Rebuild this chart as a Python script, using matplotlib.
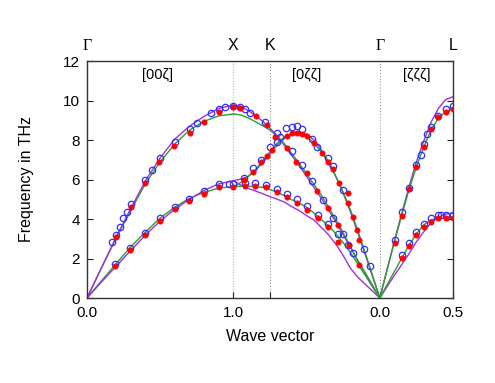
import numpy as np
import matplotlib
matplotlib.use('Agg')
from matplotlib import pyplot as plt

plt.rcParams['font.family'] = ['Liberation Sans', 'DejaVu Sans']
plt.rcParams['font.size'] = 11

# path positions and labels
sym_pos = [0.0, 1.0, 1.25, 2.0, 2.5]
sym_lab = [u'\u0393', 'X', 'K', u'\u0393', 'L']
tick_pos = [0.0, 1.0, 1.25, 2.0, 2.5]
tick_lab = ['0.0', '1.0', '', '0.0', '0.5']
dir_lab = [u'[00\u03b6]', u'[0\u03b6\u03b6]', u'[\u03b6\u03b6\u03b6]']
dir_pos = [0.48, 1.50, 2.25]

# model curves, Gamma-X
q_gx = [0.0, 0.1, 0.2, 0.3, 0.4, 0.5, 0.6, 0.7, 0.8, 0.9, 1.0]
green_gx_l = [0, 1.55, 3.05, 4.45, 5.8, 6.9, 7.8, 8.5, 8.95, 9.22, 9.32]
green_gx_t = [0, 0.88, 1.75, 2.6, 3.35, 4.05, 4.6, 5.05, 5.35, 5.57, 5.64]
purple_gx_l = [0, 1.55, 3.1, 4.55, 5.95, 7.1, 8.05, 8.7, 9.2, 9.6, 9.77]
purple_gx_t = [0, 0.82, 1.62, 2.42, 3.2, 3.9, 4.5, 5.0, 5.45, 5.78, 5.94]

# model curves, X-K-Gamma
q_xg = [1.0, 1.05, 1.1, 1.15, 1.2, 1.25, 1.3, 1.35, 1.4, 1.45, 1.5,
        1.55, 1.6, 1.65, 1.7, 1.75, 1.8, 1.85, 1.9, 1.95, 2.0]
green_xg_1 = [9.32, 9.27, 9.12, 8.93, 8.72, 8.5, 8.2, 7.8, 7.3, 6.8, 6.3,
              5.75, 5.2, 4.6, 3.95, 3.3, 2.6, 1.85, 1.25, 0.62, 0]
green_xg_2 = [5.64, 5.85, 6.15, 6.5, 6.95, 7.4, 7.85, 8.15, 8.32, 8.33, 8.2,
              7.85, 7.4, 6.85, 6.15, 5.35, 4.45, 3.4, 2.3, 1.15, 0]
green_xg_3 = [5.64, 5.66, 5.66, 5.64, 5.6, 5.5, 5.35, 5.17, 4.97, 4.8, 4.6,
              4.3, 3.98, 3.65, 3.25, 2.8, 2.3, 1.72, 1.15, 0.57, 0]
purple_xg_1 = [9.77, 9.7, 9.5, 9.25, 8.95, 8.6, 8.2, 7.7, 7.2, 6.7, 6.15,
               5.6, 5.05, 4.45, 3.85, 3.2, 2.55, 1.9, 1.28, 0.64, 0]
purple_xg_2 = [5.94, 6.02, 6.15, 6.45, 6.85, 7.3, 7.75, 8.1, 8.3, 8.4, 8.3,
               8.0, 7.5, 6.9, 6.15, 5.3, 4.35, 3.3, 2.2, 1.1, 0]
purple_xg_3 = [5.94, 5.72, 5.55, 5.42, 5.28, 5.13, 5.0, 4.85, 4.62, 4.42, 4.17,
               3.95, 3.58, 3.2, 2.72, 2.15, 1.5, 1.05, 0.7, 0.35, 0]

# model curves, Gamma-L
q_gl = [2.0, 2.05, 2.1, 2.15, 2.2, 2.25, 2.3, 2.35, 2.4, 2.45, 2.5]
green_gl_l = [0, 1.45, 2.85, 4.2, 5.5, 6.65, 7.65, 8.5, 9.1, 9.45, 9.55]
green_gl_t = [0, 0.68, 1.35, 2.02, 2.68, 3.25, 3.7, 3.97, 4.02, 4.05, 4.05]
purple_gl_l = [0, 1.45, 2.9, 4.3, 5.65, 6.9, 7.95, 8.9, 9.6, 10.05, 10.19]
purple_gl_t = [0, 0.58, 1.15, 1.7, 2.25, 2.85, 3.35, 3.8, 4.1, 4.25, 4.3]

# measured points (filled red)
red_q = [0.196, 0.299, 0.397, 0.495, 0.596, 0.70, 0.80, 0.90, 1.0,
         0.192, 0.295, 0.397, 0.5, 0.598, 0.696, 0.797, 0.9, 1.0,
         1.043, 1.151, 1.226, 1.283, 1.363, 1.43, 1.505, 1.573, 1.646, 1.717, 1.79, 1.858,
         1.07, 1.135, 1.185, 1.226, 1.265, 1.363, 1.40, 1.436, 1.47, 1.505, 1.55, 1.607,
         1.646, 1.68, 1.72, 1.78, 1.78, 1.82, 1.847, 1.858,
         1.08, 1.15, 1.22, 1.295, 1.367, 1.436, 1.505, 1.578, 1.646, 1.714,
         2.103, 2.151, 2.2, 2.25, 2.30, 2.349, 2.40, 2.452, 2.5,
         2.151, 2.2, 2.25, 2.30, 2.349, 2.40, 2.452, 2.5]
red_f = [3.1, 4.6, 5.84, 6.87, 7.71, 8.35, 8.93, 9.43, 9.65,
         1.62, 2.43, 3.19, 3.9, 4.49, 4.91, 5.27, 5.6, 5.64,
         9.6, 9.22, 8.76, 8.17, 7.58, 6.9, 6.35, 5.43, 4.54, 3.7, 2.68, 1.67,
         5.97, 6.4, 6.9, 7.19, 7.49, 8.2, 8.37, 8.34, 8.3, 8.2, 7.83, 7.36,
         6.9, 6.51, 5.8, 5.33, 4.83, 4.09, 3.44, 2.94,
         5.67, 5.67, 5.6, 5.35, 5.1, 4.83, 4.46, 4.03, 3.6, 2.83,
         2.8, 4.15, 5.5, 6.61, 7.66, 8.54, 9.18, 9.43, 9.55,
         2.01, 2.63, 3.17, 3.61, 3.87, 4.03, 4.03, 4.03]

# measured points (open blue)
blue_q = [0.173, 0.196, 0.226, 0.249, 0.272, 0.299, 0.397, 0.443, 0.5, 0.598,
          0.70, 0.75, 0.85, 0.90, 0.945, 1.0,
          0.194, 0.295, 0.397, 0.5, 0.598, 0.696, 0.797, 0.9, 0.97, 1.0,
          1.043, 1.082, 1.116, 1.219, 1.295, 1.40, 1.47, 1.54, 1.614, 1.683, 1.75, 1.82,
          1.07, 1.135, 1.185, 1.253, 1.30, 1.32, 1.36, 1.40, 1.436, 1.47, 1.539, 1.573,
          1.646, 1.68, 1.75, 1.893, 1.932,
          1.08, 1.15, 1.22, 1.295, 1.367, 1.436, 1.505, 1.578, 1.646, 1.714, 1.785,
          2.103, 2.151, 2.2, 2.25, 2.28, 2.30, 2.325, 2.349, 2.40, 2.452, 2.5,
          2.151, 2.2, 2.25, 2.30, 2.349, 2.40, 2.42, 2.452, 2.5]
blue_f = [2.85, 3.19, 3.58, 4.03, 4.37, 4.74, 5.97, 6.48, 7.07, 7.91,
          8.54, 8.84, 9.35, 9.55, 9.69, 9.72,
          1.72, 2.55, 3.29, 4.03, 4.6, 5.0, 5.42, 5.75, 5.77, 5.77,
          9.69, 9.55, 9.38, 8.89, 8.34, 7.42, 6.73, 5.9, 4.96, 4.07, 3.24, 2.26,
          6.1, 6.6, 7.0, 7.63, 7.91, 8.17, 8.59, 8.67, 8.71, 8.56, 8.03, 7.66,
          7.1, 6.7, 5.47, 2.46, 1.62,
          5.8, 5.8, 5.72, 5.5, 5.27, 5.0, 4.66, 4.2, 3.73, 3.24, 2.68,
          2.93, 4.37, 5.55, 6.73, 7.24, 7.8, 8.3, 8.67, 9.22, 9.55, 9.7,
          2.18, 2.8, 3.34, 3.75, 4.03, 4.2, 4.2, 4.2, 4.2]


def main():
    fig = plt.figure(figsize=(4.95, 3.83), dpi=100)
    ax = fig.add_axes([0.1758, 0.2219, 0.7394, 0.6188])

    green = '#2ca02c'
    purple = '#a030e0'

    # vertical markers at symmetry points
    ax.axvline(1.0, color='#c8c8c8', lw=1.0, ls=(0, (1, 1)), zorder=1)
    for x in [1.25, 2.0]:
        ax.axvline(x, color='#808080', lw=0.7, ls=(0, (1, 2)), zorder=1)

    curves = [
        (q_gx, green_gx_l, green), (q_gx, green_gx_t, green),
        (q_gx, purple_gx_l, purple), (q_gx, purple_gx_t, purple),
        (q_xg, purple_xg_1, purple), (q_xg, purple_xg_2, purple),
        (q_xg, purple_xg_3, purple),
        (q_xg, green_xg_1, green), (q_xg, green_xg_2, green),
        (q_xg, green_xg_3, green),
        (q_gl, purple_gl_l, purple), (q_gl, purple_gl_t, purple),
        (q_gl, green_gl_l, green), (q_gl, green_gl_t, green),
    ]
    for q, f, c in curves:
        ax.plot(q, f, color=c, lw=1.0, zorder=2)

    ax.plot(blue_q, blue_f, 'o', ms=4.6, mfc='none', mec='#3030ff',
            mew=0.9, zorder=3)
    ax.plot(red_q, red_f, 'o', ms=3.8, mfc='red', mec='red', mew=0.5,
            zorder=4)

    ax.set_xlim(0, 2.5)
    ax.set_ylim(0, 12)
    ax.set_xticks(tick_pos)
    ax.set_xticklabels(tick_lab)
    ax.set_yticks(range(0, 13, 2))
    ax.tick_params(direction='in', length=4, right=True, width=0.8,
                   colors='#222222', labelcolor='black', labelsize=11)
    ax.tick_params(axis='x', pad=6)
    ax.tick_params(axis='y', pad=5)
    for s in ax.spines.values():
        s.set_linewidth(1.0)
        s.set_color('#333333')

    trans = ax.get_xaxis_transform()
    for x, lab in zip(sym_pos, sym_lab):
        fam = ['Liberation Serif'] if lab == u'\u0393' else ['Liberation Sans']
        ax.text(x, 1.065, lab, transform=trans, ha='center', va='center',
                family=fam, fontsize=11.5)
    for x, lab in zip(dir_pos, dir_lab):
        ax.text(x, 0.94, lab, transform=trans, ha='center', va='center',
                fontsize=10.5, family=['Liberation Sans', 'DejaVu Sans'])

    ax.set_xlabel('Wave vector', labelpad=6, fontsize=11.5)
    ax.set_ylabel('Frequency in THz', labelpad=21, fontsize=11.5)

    fig.savefig('out.png', dpi=100)
    plt.close()


if __name__ == '__main__':
    main()
